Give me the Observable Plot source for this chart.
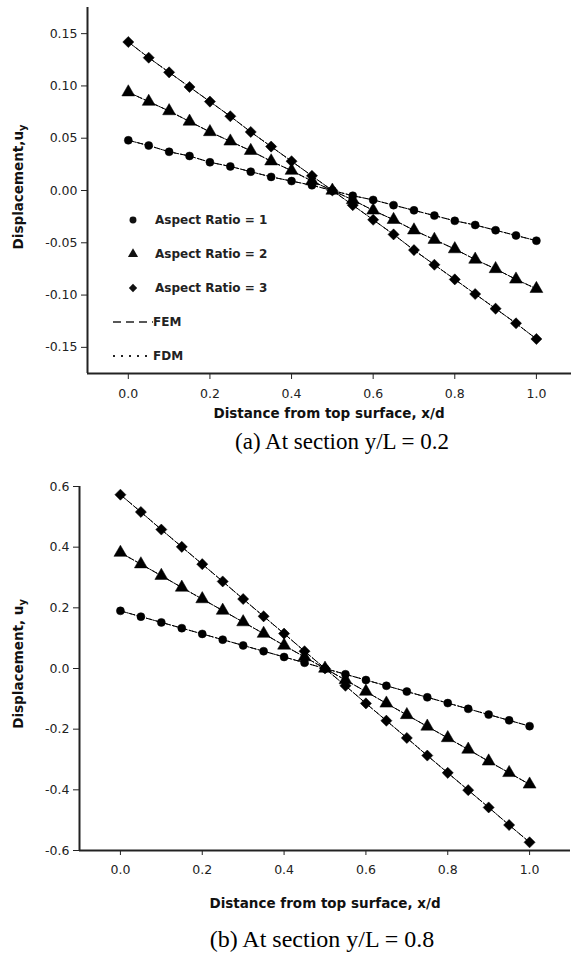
<!DOCTYPE html>
<html><head><meta charset="utf-8">
<script src="https://cdn.jsdelivr.net/npm/d3@7"></script>
<script src="https://cdn.jsdelivr.net/npm/@observablehq/plot@0.6"></script>
<style>
body{margin:0;background:#fff;}
#wrap{position:relative;width:571px;height:964px;overflow:hidden;background:#fff;font-family:"DejaVu Sans",sans-serif;color:#111;}
.panel{position:absolute;left:0;}
.ylab{position:absolute;font-weight:bold;font-size:13.5px;white-space:nowrap;transform:translate(-50%,-50%) rotate(-90deg);}
.xlab{position:absolute;font-weight:bold;font-size:13.5px;white-space:nowrap;transform:translate(-50%,-50%);}
.cap{position:absolute;font-family:"Liberation Serif",serif;white-space:nowrap;transform:translate(-50%,-50%);color:#000;}
.leg{position:absolute;font-weight:bold;font-size:12px;white-space:nowrap;transform:translateY(-50%);color:#222;}
sub{font-size:72%;vertical-align:-3px;}
</style></head>
<body><div id="wrap"></div>
<script>
// ---- data ----
const xPos = [0,0.05,0.1,0.15,0.2,0.25,0.3,0.35,0.4,0.45,0.5,0.55,0.6,0.65,0.7,0.75,0.8,0.85,0.9,0.95,1.0];
const aspectRatios = ["1","2","3"];
const methods = ["FEM","FDM"];
// (a) y/L = 0.2
const a_ar1 = [0.048,0.043,0.037,0.033,0.027,0.023,0.018,0.013,0.009,0.005,0.000,-0.005,-0.009,-0.014,-0.019,-0.024,-0.029,-0.033,-0.038,-0.043,-0.048];
const a_ar2 = [0.094,0.085,0.076,0.066,0.056,0.047,0.038,0.028,0.019,0.009,0.000,-0.009,-0.019,-0.028,-0.038,-0.047,-0.056,-0.066,-0.075,-0.085,-0.094];
const a_ar3 = [0.142,0.127,0.113,0.099,0.085,0.071,0.056,0.042,0.028,0.014,0.000,-0.014,-0.028,-0.042,-0.057,-0.071,-0.085,-0.099,-0.113,-0.127,-0.142];
// (b) y/L = 0.8
const b_ar1 = [0.190,0.171,0.152,0.133,0.114,0.095,0.076,0.057,0.038,0.019,0.000,-0.019,-0.038,-0.057,-0.076,-0.095,-0.114,-0.133,-0.152,-0.171,-0.190];
const b_ar2 = [0.382,0.344,0.306,0.267,0.229,0.191,0.153,0.115,0.076,0.038,0.000,-0.038,-0.076,-0.115,-0.153,-0.191,-0.229,-0.267,-0.306,-0.344,-0.382];
const b_ar3 = [0.573,0.516,0.458,0.401,0.344,0.287,0.229,0.172,0.115,0.057,0.000,-0.057,-0.115,-0.172,-0.229,-0.287,-0.344,-0.401,-0.458,-0.516,-0.573];
const xTicks = [0,0.2,0.4,0.6,0.8,1.0];
const aYTicks = [-0.15,-0.10,-0.05,0,0.05,0.10,0.15];
const bYTicks = [-0.6,-0.4,-0.2,0,0.2,0.4,0.6];
const xLabel = "Distance from top surface, x/d";
const captionA = "(a) At section y/L = 0.2";
const captionB = "(b) At section y/L = 0.8";

const symbols = ["circle","triangle","diamond2"];
const symbolR = [4, 4.8, 5];

function rows(series){
  const out = [];
  series.forEach((arr, k) => arr.forEach((v, i) => out.push({x: xPos[i], y: v, ar: aspectRatios[k]})));
  return out;
}
const fmt = n => v => (v < 0 ? "-" : "") + Math.abs(v).toFixed(n);

function makePanel(data, o){
  return Plot.plot({
    width: 571, height: o.height,
    marginLeft: o.ml, marginRight: o.mr, marginTop: o.mt, marginBottom: o.mb,
    style: {fontFamily: "DejaVu Sans, sans-serif", fontSize: "12px", color: "#222", background: "white"},
    x: {domain: o.xd},
    y: {domain: o.yd},
    symbol: {domain: aspectRatios, range: symbols},
    marks: [
      Plot.axisX({ticks: xTicks, tickFormat: fmt(1), tickSize: o.xts, tickPadding: 10, fontSize: 12.5, label: null, stroke: "#222"}),
      Plot.axisY({ticks: o.yt, tickFormat: fmt(o.yf), tickSize: 6, tickPadding: 4, fontSize: 12.5, label: null, stroke: "#222"}),
      Plot.ruleY([o.yd[0]], {stroke: "#222", strokeWidth: 2}),
      Plot.ruleX([o.xd[0]], {stroke: "#222", strokeWidth: 2}),
      Plot.line(data, {x: "x", y: "y", z: "ar", stroke: "black", strokeWidth: 1, strokeDasharray: "6,3"}),
      Plot.line(data, {x: "x", y: "y", z: "ar", stroke: "black", strokeWidth: 1, strokeDasharray: "1.2,2.2"}),
      ...aspectRatios.map((ar, k) =>
        Plot.dot(data.filter(d => d.ar === ar), {x: "x", y: "y", symbol: "ar", fill: "black", stroke: "black", strokeWidth: 0.5, r: symbolR[k]}))
    ]
  });
}

const wrap = document.getElementById("wrap");

const pa = makePanel(rows([a_ar1, a_ar2, a_ar3]), {height: 410, ml: 87, mr: 0, mt: 7, mb: 37, xd: [-0.1, 1.086], yd: [-0.175, 0.175], yt: aYTicks, yf: 2, xts: 6});
const da = document.createElement("div"); da.className = "panel"; da.style.top = "0px"; da.appendChild(pa); wrap.appendChild(da);

const pb = makePanel(rows([b_ar1, b_ar2, b_ar3]), {height: 420, ml: 79, mr: 1, mt: 16, mb: 40, xd: [-0.1, 1.1], yd: [-0.6, 0.6], yt: bYTicks, yf: 1, xts: 5});
const db = document.createElement("div"); db.className = "panel"; db.style.top = "470px"; db.appendChild(pb); wrap.appendChild(db);

function addHTML(cls, html, left, top, extra){
  const e = document.createElement("div");
  e.className = cls; e.innerHTML = html;
  e.style.left = left + "px"; e.style.top = top + "px";
  if (extra) Object.assign(e.style, extra);
  wrap.appendChild(e);
  return e;
}
addHTML("ylab", "Displacement,u<sub>y</sub>", 19, 187);
addHTML("xlab", xLabel, 329, 413);
addHTML("cap", captionA, 342, 442, {fontSize: "23px"});
addHTML("ylab", "Displacement, u<sub>y</sub>", 19, 664);
addHTML("xlab", xLabel, 325, 903);
addHTML("cap", captionB, 322, 939, {fontSize: "24px"});

// ---- legend (panel a) ----
const legRowsY = [220, 254, 288];
const legSymbols = [d3.symbolCircle, d3.symbolTriangle, d3.symbolDiamond2];
aspectRatios.forEach((ar, k) => {
  const s = d3.create("svg").attr("width", 14).attr("height", 14)
    .style("position", "absolute").style("left", (133 - 7) + "px").style("top", (legRowsY[k] - 7) + "px");
  s.append("path").attr("transform", "translate(7,7)")
    .attr("d", d3.symbol(legSymbols[k], k ? 44 : 38)())
    .attr("fill", "#111");
  wrap.appendChild(s.node());
  addHTML("leg", "Aspect Ratio = " + ar, 155, legRowsY[k]);
});
const methRowsY = [322, 356];
const methDash = ["8,5", "2,6"];
methods.forEach((m, k) => {
  const s = d3.create("svg").attr("width", 42).attr("height", 6)
    .style("position", "absolute").style("left", "112px").style("top", (methRowsY[k] - 3) + "px");
  s.append("line").attr("x1", 1).attr("x2", 41).attr("y1", 3).attr("y2", 3)
    .attr("stroke", "#222").attr("stroke-width", k ? 1.8 : 1.3).attr("stroke-dasharray", methDash[k]);
  wrap.appendChild(s.node());
  addHTML("leg", m, 153, methRowsY[k]);
});
</script>
</body></html>
